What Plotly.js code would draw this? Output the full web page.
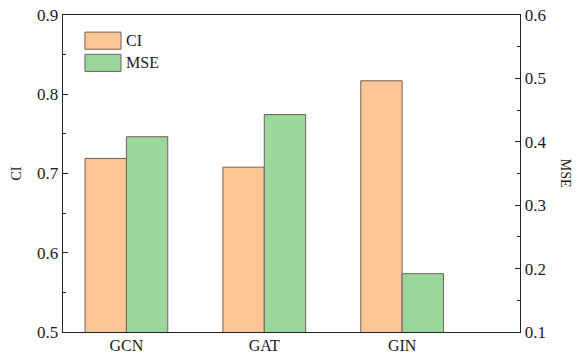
<!DOCTYPE html>
<html><head><meta charset="utf-8">
<script src="https://cdn.plot.ly/plotly-3.0.1.min.js"></script>
<style>body{margin:0;background:#fff}#chart{width:576px;height:353px}</style>
</head><body><div id="chart"></div>
<script>
const categories = ['GCN', 'GAT', 'GIN'];
const ciValues = [0.719, 0.708, 0.817];
const mseValues = [0.408, 0.443, 0.192];
const seriesNames = ['CI', 'MSE'];

const ORANGE = '#FDC593', GREEN = '#9DD69A', EDGE = '#6e625a';
const font = {family: 'Liberation Serif, Times New Roman, serif', color: '#1a1a1a'};

const traces = [
  {type: 'bar', name: seriesNames[0], x: categories, y: ciValues, yaxis: 'y',
   width: 0.3, offset: -0.3, marker: {color: ORANGE, line: {color: EDGE, width: 1}}},
  {type: 'bar', name: seriesNames[1], x: categories, y: mseValues, yaxis: 'y2',
   width: 0.3, offset: 0, marker: {color: GREEN, line: {color: EDGE, width: 1}}}
];

const legendColors = [ORANGE, GREEN];
const shapes = [], annotations = [];
seriesNames.forEach((n, i) => {
  const y0 = 0.946 - i * 0.07;
  shapes.push({type: 'rect', xref: 'paper', yref: 'paper', x0: 0.048, x1: 0.127, y0: y0 - 0.054, y1: y0,
    fillcolor: legendColors[i], line: {color: EDGE, width: 1}});
  annotations.push({xref: 'paper', yref: 'paper', x: 0.134, y: y0 - 0.027, xanchor: 'left', yanchor: 'middle',
    text: n, showarrow: false, font: Object.assign({}, font, {size: 16})});
});
annotations.push({xref: 'paper', yref: 'paper', x: 1.1, y: 0.5, xanchor: 'center', yanchor: 'middle',
  text: 'MSE', textangle: 90, showarrow: false, font: Object.assign({}, font, {size: 14})});

const layout = {
  width: 576, height: 353,
  margin: {l: 63, r: 56, t: 15, b: 21},
  paper_bgcolor: '#fff', plot_bgcolor: '#fff',
  showlegend: false,
  font: font,
  xaxis: {type: 'category', range: [-0.46, 2.855], showline: true, mirror: true, linecolor: '#222', linewidth: 1.3,
    ticks: '', tickfont: Object.assign({}, font, {size: 16}), showgrid: false, zeroline: false, ticklabelstandoff: -2},
  yaxis: {range: [0.5, 0.9], dtick: 0.1, tickformat: '.1f', showline: true, linecolor: '#222', linewidth: 1.3,
    ticks: 'inside', ticklen: 5, tickcolor: '#222', showgrid: false, zeroline: false,
    minor: {ticks: 'inside', dtick: 0.05, ticklen: 3, tickcolor: '#222', showgrid: false},
    tickfont: Object.assign({}, font, {size: 17}),
    title: {text: 'CI', font: Object.assign({}, font, {size: 14}), standoff: 12}},
  yaxis2: {range: [0.1, 0.6], dtick: 0.1, tickformat: '.1f', overlaying: 'y', side: 'right', showline: true,
    linecolor: '#222', linewidth: 1.3, ticks: 'inside', ticklen: 5, tickcolor: '#222', showgrid: false, zeroline: false,
    minor: {ticks: 'inside', dtick: 0.05, ticklen: 3, tickcolor: '#222', showgrid: false},
    tickfont: Object.assign({}, font, {size: 17})},
  shapes: shapes,
  annotations: annotations
};

Plotly.newPlot('chart', traces, layout, {displayModeBar: false, staticPlot: true});
</script></body></html>
